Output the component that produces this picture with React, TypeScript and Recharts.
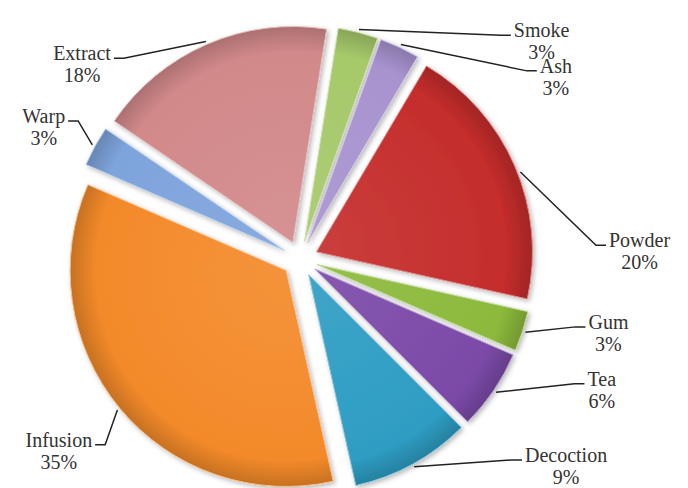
import React from "react";
import { Pie, PieChart, Sector } from "recharts";

// slices, clockwise from the top
const NAMES = ["Smoke", "Ash", "Powder", "Gum", "Tea", "Decoction", "Infusion", "Warp", "Extract"];
const SHARES = [3, 3, 20, 3, 6, 9, 35, 3, 18];

const COLORS = [
  "#a6c96a",
  "#a893cf",
  "#c52d2c",
  "#8cba3c",
  "#7b4aa8",
  "#2e9dc3",
  "#f38a2a",
  "#7ea4dc",
  "#d2898a",
];

// label placement: polar from the pie centre (deg clockwise from 12 o'clock, px)
// edge = where the leader leaves the slice, if not at the slice middle
const LABEL_LAYOUT: Array<{ angle: number; radius: number; edge?: number }> = [
  { angle: 46.7, radius: 332 },
  { angle: 53.1, radius: 320 },
  { angle: 87.0, radius: 340, edge: 68.6 },
  { angle: 101.7, radius: 315 },
  { angle: 111.8, radius: 325 },
  { angle: 126.5, radius: 331 },
  { angle: 233.0, radius: 302 },
  { angle: 299.0, radius: 293 },
  { angle: 313.2, radius: 299 },
];

const WIDTH = 680;
const HEIGHT = 480;
const CX = 287;
const CY = 246;
const R = 216;
const EXPLODE = 18;
const FONT = '"Liberation Serif", "Times New Roman", serif';
const RAD = Math.PI / 180;

const data = NAMES.map((name, i) => ({ name, value: SHARES[i] }));

function clock(cx: number, cy: number, deg: number, r: number) {
  return { x: cx + r * Math.sin(deg * RAD), y: cy - r * Math.cos(deg * RAD) };
}

function shade(hex: string, f: number) {
  const n = parseInt(hex.slice(1), 16);
  const ch = [(n >> 16) & 255, (n >> 8) & 255, n & 255].map((c) =>
    Math.max(0, Math.min(255, Math.round(f < 0 ? c * (1 + f) : c + (255 - c) * f))),
  );
  return `rgb(${ch[0]},${ch[1]},${ch[2]})`;
}

let ctx: CanvasRenderingContext2D | null = null;
function textWidth(s: string) {
  try {
    ctx = ctx || document.createElement("canvas").getContext("2d");
    if (!ctx) return s.length * 9;
    ctx.font = `20px ${FONT}`;
    return ctx.measureText(s).width;
  } catch {
    return s.length * 9;
  }
}

function renderSlice(props: any) {
  const { cx, cy, startAngle, endAngle, midAngle, index, percent } = props;
  const name = props.payload?.name ?? props.name;
  const color = COLORS[index % COLORS.length];
  const midClock = 90 - midAngle;
  const o = clock(cx, cy, midClock, EXPLODE);
  const lay = LABEL_LAYOUT[index];
  const t = clock(cx, cy, lay.angle, lay.radius);
  const start = clock(o.x, o.y, lay.edge ?? midClock, R + 3);
  const left = t.x < cx;
  const half = textWidth(name) / 2;
  const endX = left ? t.x + half + 3 : t.x - half - 3;
  const endY = t.y + 4;
  const elbowX = left ? endX + 10 : endX - 10;

  return (
    <g key={`slice-${index}`}>
      <defs>
        <radialGradient id={`grad-${index}`} gradientUnits="userSpaceOnUse" cx={o.x} cy={o.y} r={R}>
          <stop offset="0%" stopColor={shade(color, 0.08)} />
          <stop offset="88%" stopColor={color} />
          <stop offset="100%" stopColor={shade(color, -0.18)} />
        </radialGradient>
        <filter id={`shadow-${index}`} x="-20%" y="-20%" width="140%" height="140%">
          <feDropShadow dx="2" dy="2" stdDeviation="2.5" floodColor="#000" floodOpacity="0.28" />
        </filter>
      </defs>
      <Sector
        cx={o.x}
        cy={o.y}
        innerRadius={0}
        outerRadius={R}
        startAngle={startAngle}
        endAngle={endAngle}
        fill={`url(#grad-${index})`}
        stroke={shade(color, 0.45)}
        strokeWidth={1}
        filter={`url(#shadow-${index})`}
      />
      <polyline
        points={`${start.x},${start.y} ${elbowX},${endY} ${endX},${endY}`}
        fill="none"
        stroke="#222"
        strokeWidth={1.5}
      />
      <text x={t.x} y={t.y + 6} textAnchor="middle" fontFamily={FONT} fontSize={20} fill="#333">
        <tspan x={t.x}>{name}</tspan>
        <tspan x={t.x} dy={22}>{`${Math.round(percent * 100)}%`}</tspan>
      </text>
    </g>
  );
}

export default function App() {
  return (
    <div style={{ width: WIDTH, height: HEIGHT, background: "#fff" }}>
      <PieChart width={WIDTH} height={HEIGHT}>
        <Pie
          data={data}
          dataKey="value"
          nameKey="name"
          cx={CX}
          cy={CY}
          innerRadius={0}
          outerRadius={R}
          startAngle={81}
          endAngle={-279}
          fill="none"
          stroke="none"
          label={renderSlice}
          labelLine={false}
          isAnimationActive={false}
        />
      </PieChart>
    </div>
  );
}
